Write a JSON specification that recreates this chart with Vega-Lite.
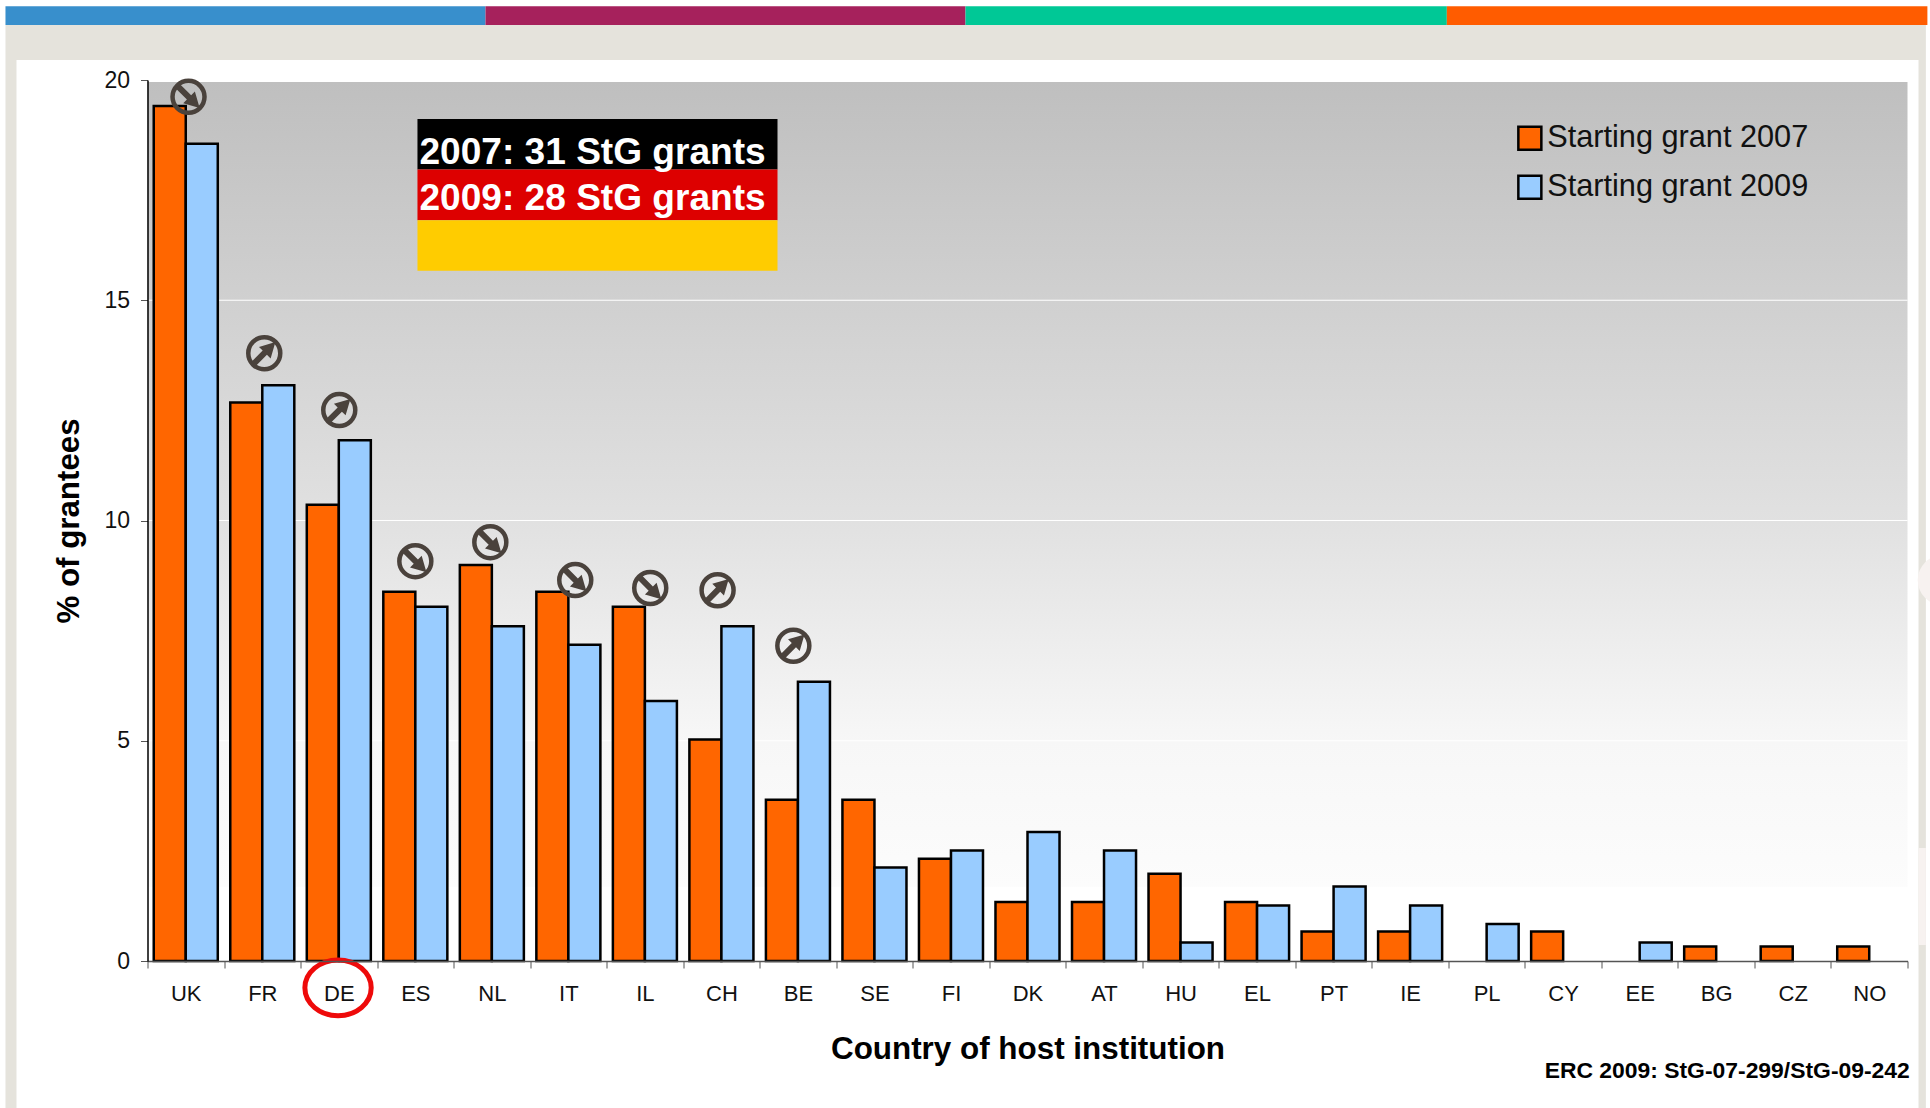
{"$schema":"https://vega.github.io/schema/vega-lite/v6.json","width":1760,"height":881,"padding":{"left":147.5,"top":80,"right":22.5,"bottom":147},"autosize":{"type":"none"},"background":"white","config":{"font":"Liberation Sans","view":{"stroke":null}},"datasets":{"page":[{"part":"band","x":-1.856,"x2":23.24,"y":21.247,"y2":-3.4},{"part":"panel","x":-1.712,"x2":23.144,"y":20.453,"y2":-3.4},{"part":"tab","x":23.144,"x2":23.24,"y":2.565,"y2":0.363},{"part":"s1","x":-1.856,"x2":4.417,"y":21.677,"y2":21.247},{"part":"s2","x":4.417,"x2":10.69,"y":21.677,"y2":21.247},{"part":"s3","x":10.69,"x2":16.98,"y":21.677,"y2":21.247},{"part":"s4","x":16.98,"x2":23.26,"y":21.677,"y2":21.247}],"flag":[{"part":"black","x":3.528,"x2":8.233,"y":19.117,"y2":17.967},{"part":"red","x":3.528,"x2":8.233,"y":17.967,"y2":16.817},{"part":"gold","x":3.528,"x2":8.233,"y":16.817,"y2":15.667}],"flagText":[{"x":3.554,"y":18.335,"t":"2007: 31 StG grants"},{"x":3.554,"y":17.305,"t":"2009: 28 StG grants"}],"bars":[{"c":"UK","g":"Starting grant 2007","v":19.41},{"c":"UK","g":"Starting grant 2009","v":18.55},{"c":"FR","g":"Starting grant 2007","v":12.68},{"c":"FR","g":"Starting grant 2009","v":13.07},{"c":"DE","g":"Starting grant 2007","v":10.36},{"c":"DE","g":"Starting grant 2009","v":11.82},{"c":"ES","g":"Starting grant 2007","v":8.38},{"c":"ES","g":"Starting grant 2009","v":8.04},{"c":"NL","g":"Starting grant 2007","v":8.99},{"c":"NL","g":"Starting grant 2009","v":7.6},{"c":"IT","g":"Starting grant 2007","v":8.38},{"c":"IT","g":"Starting grant 2009","v":7.18},{"c":"IL","g":"Starting grant 2007","v":8.04},{"c":"IL","g":"Starting grant 2009","v":5.9},{"c":"CH","g":"Starting grant 2007","v":5.03},{"c":"CH","g":"Starting grant 2009","v":7.6},{"c":"BE","g":"Starting grant 2007","v":3.66},{"c":"BE","g":"Starting grant 2009","v":6.34},{"c":"SE","g":"Starting grant 2007","v":3.66},{"c":"SE","g":"Starting grant 2009","v":2.12},{"c":"FI","g":"Starting grant 2007","v":2.32},{"c":"FI","g":"Starting grant 2009","v":2.51},{"c":"DK","g":"Starting grant 2007","v":1.34},{"c":"DK","g":"Starting grant 2009","v":2.93},{"c":"AT","g":"Starting grant 2007","v":1.34},{"c":"AT","g":"Starting grant 2009","v":2.51},{"c":"HU","g":"Starting grant 2007","v":1.98},{"c":"HU","g":"Starting grant 2009","v":0.42},{"c":"EL","g":"Starting grant 2007","v":1.34},{"c":"EL","g":"Starting grant 2009","v":1.26},{"c":"PT","g":"Starting grant 2007","v":0.67},{"c":"PT","g":"Starting grant 2009","v":1.69},{"c":"IE","g":"Starting grant 2007","v":0.67},{"c":"IE","g":"Starting grant 2009","v":1.26},{"c":"PL","g":"Starting grant 2009","v":0.84},{"c":"CY","g":"Starting grant 2007","v":0.67},{"c":"EE","g":"Starting grant 2009","v":0.42},{"c":"BG","g":"Starting grant 2007","v":0.33},{"c":"CZ","g":"Starting grant 2007","v":0.33},{"c":"NO","g":"Starting grant 2007","v":0.33}],"marks":[{"c":"UK","x":0.536,"y":19.617,"dir":"down"},{"c":"FR","x":1.526,"y":13.797,"dir":"up"},{"c":"DE","x":2.506,"y":12.507,"dir":"up"},{"c":"ES","x":3.5,"y":9.077,"dir":"down"},{"c":"NL","x":4.48,"y":9.507,"dir":"down"},{"c":"IT","x":5.59,"y":8.647,"dir":"down"},{"c":"IL","x":6.57,"y":8.467,"dir":"down"},{"c":"CH","x":7.45,"y":8.417,"dir":"up"},{"c":"BE","x":8.44,"y":7.157,"dir":"up"}]},"layer":[{"data":{"name":"page"},"mark":{"type":"rect"},"encoding":{"x":{"field":"x","type":"quantitative","scale":{"domain":[0,23]},"axis":null},"x2":{"field":"x2"},"y":{"field":"y","type":"quantitative","scale":{"domain":[0,20],"nice":false},"axis":{"values":[0,5,10,15,20],"title":"% of grantees","titleFontSize":31.3,"titleFontWeight":"bold","titleColor":"black","titlePadding":18,"labelFontSize":23,"labelColor":"#111","labelPadding":11,"tickSize":7,"tickColor":"#555","domainColor":"black","domainWidth":1.5,"grid":false,"zindex":1}},"y2":{"field":"y2"},"fill":{"field":"part","type":"nominal","legend":null,"scale":{"domain":["band","panel","tab","s1","s2","s3","s4"],"range":["#e5e3dc","#ffffff","#f7f2f0","#388fcc","#a6215c","#00c896","#ff5c00"]}}}},{"data":{"values":[{"x":23.46,"y":8.647}]},"mark":{"type":"point","filled":true,"opacity":1,"color":"#f7f2f0","size":2500,"shape":"circle"},"encoding":{"x":{"field":"x","type":"quantitative","scale":{"domain":[0,23]},"axis":null},"y":{"field":"y","type":"quantitative"}}},{"data":{"values":[{"x":0,"x2":23,"y":19.955,"y2":0}]},"mark":{"type":"rect","color":{"gradient":"linear","x1":0,"y1":0,"x2":0,"y2":1,"stops":[{"offset":0,"color":"#bfbfbf"},{"offset":0.5,"color":"#e1e1e1"},{"offset":0.75,"color":"#f7f7f7"},{"offset":0.915,"color":"#fcfcfc"},{"offset":0.916,"color":"#ffffff"},{"offset":1,"color":"#ffffff"}]}},"encoding":{"x":{"field":"x","type":"quantitative","scale":{"domain":[0,23]},"axis":null},"x2":{"field":"x2"},"y":{"field":"y","type":"quantitative"},"y2":{"field":"y2"}}},{"data":{"values":[{"y":5},{"y":10},{"y":15}]},"mark":{"type":"rule","color":"white","strokeWidth":1.2},"encoding":{"y":{"field":"y","type":"quantitative"}}},{"data":{"name":"flag"},"mark":{"type":"rect"},"encoding":{"x":{"field":"x","type":"quantitative","scale":{"domain":[0,23]},"axis":null},"x2":{"field":"x2"},"y":{"field":"y","type":"quantitative"},"y2":{"field":"y2"},"fill":{"field":"part","type":"nominal","legend":null,"scale":{"domain":["black","red","gold"],"range":["#000000","#dd0000","#ffcc00"]}}}},{"data":{"name":"flagText"},"mark":{"type":"text","align":"left","baseline":"middle","fontSize":37.1,"fontWeight":"bold","color":"white"},"encoding":{"x":{"field":"x","type":"quantitative","scale":{"domain":[0,23]},"axis":null},"y":{"field":"y","type":"quantitative"},"text":{"field":"t"}}},{"data":{"name":"bars"},"mark":{"type":"bar","stroke":"black","strokeWidth":2.5},"encoding":{"x":{"field":"c","type":"nominal","title":"Country of host institution","scale":{"domain":["UK","FR","DE","ES","NL","IT","IL","CH","BE","SE","FI","DK","AT","HU","EL","PT","IE","PL","CY","EE","BG","CZ","NO"],"paddingInner":0,"paddingOuter":0},"axis":{"labelAngle":0,"bandPosition":0.5,"tickBand":"extent","labelFontSize":22,"labelColor":"#111","labelPadding":15,"tickSize":7,"tickColor":"#555","domainColor":"#555","domainWidth":1.5,"titleFontSize":31.4,"titleFontWeight":"bold","titleColor":"black","titlePadding":29,"zindex":1}},"xOffset":{"field":"g","type":"nominal","scale":{"domain":["Starting grant 2007","Starting grant 2009"],"paddingInner":0,"paddingOuter":0.195}},"y":{"field":"v","type":"quantitative"},"fill":{"field":"g","type":"nominal","scale":{"domain":["Starting grant 2007","Starting grant 2009"],"range":["#ff6600","#99ccff"]},"legend":{"title":null,"orient":"none","legendX":1367,"legendY":43,"symbolType":"square","symbolSize":529,"symbolStrokeColor":"black","symbolStrokeWidth":2.5,"labelFontSize":30.7,"labelLimit":400,"labelColor":"#111","labelOffset":2,"rowPadding":15,"zindex":1}}}},{"data":{"name":"marks"},"mark":{"type":"point","filled":false,"opacity":1,"stroke":"#4a423c","strokeWidth":4.5,"size":1024,"shape":"circle"},"encoding":{"x":{"field":"x","type":"quantitative","scale":{"domain":[0,23]},"axis":null},"y":{"field":"y","type":"quantitative"}}},{"data":{"name":"marks"},"mark":{"type":"point","filled":true,"opacity":1,"color":"#4a423c","size":900,"shape":"M-0.2,1 L0.2,1 L0.2,-0.05 L0.55,-0.05 L0,-1.05 L-0.55,-0.05 L-0.2,-0.05 Z"},"encoding":{"x":{"field":"x","type":"quantitative","scale":{"domain":[0,23]},"axis":null},"y":{"field":"y","type":"quantitative"},"angle":{"field":"dir","type":"nominal","legend":null,"scale":{"domain":["up","down"],"range":[45,135]}}}},{"data":{"values":[{"x":2.49,"y":-0.61}]},"mark":{"type":"point","filled":false,"opacity":1,"stroke":"#ee0a0a","strokeWidth":5,"size":4400,"shape":"M-1,0 A1,0.84 0 1 1 1,0 A1,0.84 0 1 1 -1,0 Z"},"encoding":{"x":{"field":"x","type":"quantitative","scale":{"domain":[0,23]},"axis":null},"y":{"field":"y","type":"quantitative"}}},{"data":{"values":[{"x":23.03,"y":-2.5,"t":"ERC 2009: StG-07-299/StG-09-242"}]},"mark":{"type":"text","align":"right","baseline":"middle","fontSize":22.9,"fontWeight":"bold","color":"black"},"encoding":{"x":{"field":"x","type":"quantitative","scale":{"domain":[0,23]},"axis":null},"y":{"field":"y","type":"quantitative"},"text":{"field":"t"}}}],"resolve":{"scale":{"x":"independent","fill":"independent"}}}
